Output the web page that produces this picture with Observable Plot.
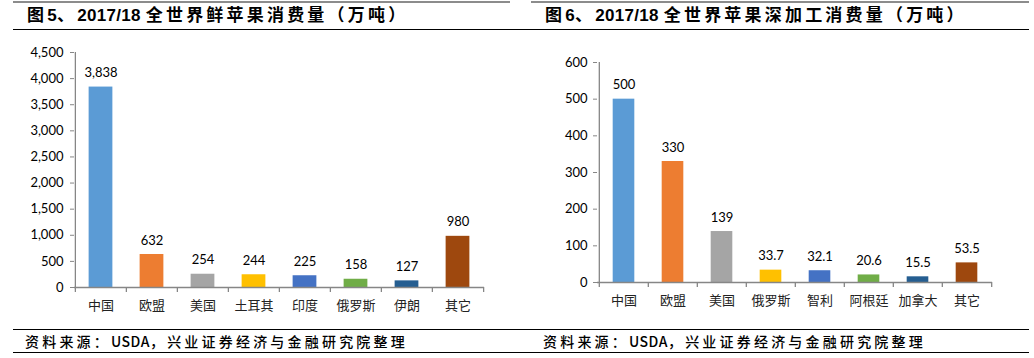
<!DOCTYPE html>
<html>
<head>
<meta charset="utf-8">
<script src="https://cdn.jsdelivr.net/npm/d3@7"></script>
<script src="https://cdn.jsdelivr.net/npm/@observablehq/plot@0.6"></script>
<style>
  html, body { margin: 0; padding: 0; background: #fff; }
  #page { position: relative; width: 1034px; height: 358px; overflow: hidden; background: #fff; }
  .hline { position: absolute; height: 0; }
  .title { position: absolute; top: 5px; font-family: "Liberation Sans", "Noto Sans CJK SC", sans-serif; font-weight: bold; font-size: 17px; letter-spacing: 3.2px; color: #000; white-space: nowrap; line-height: 22px; }
  .title .num { letter-spacing: 0.3px; }
  .foot { position: absolute; top: 330px; font-family: "Noto Sans CJK SC", sans-serif; font-weight: 500; font-size: 14px; letter-spacing: 3.2px; color: #000; white-space: nowrap; line-height: 22px; }
  .foot .num { letter-spacing: 0.5px; }
  .chart { position: absolute; top: 40px; }
</style>
</head>
<body>
<div id="page">
  <div class="hline" style="left:13px;width:497px;top:1px;border-top:2px solid #8c8c8c"></div>
  <div class="hline" style="left:531px;width:498px;top:1px;border-top:2px solid #8c8c8c"></div>
  <div class="title" style="left:27px">图<span class="num">5</span>、<span class="num">2017/18 </span>全世界鲜苹果消费量（万吨）</div>
  <div class="title" style="left:545px">图<span class="num">6</span>、<span class="num">2017/18 </span>全世界苹果深加工消费量（万吨）</div>
  <div class="hline" style="left:13px;width:1016px;top:29px;border-top:1px solid #000"></div>
  <div class="chart" id="c1" style="left:0px"></div>
  <div class="chart" id="c2" style="left:517px"></div>
  <div class="hline" style="left:13px;width:1016px;top:329px;border-top:1px solid #000"></div>
  <div class="foot" style="left:25px">资料来源：<span class="num">USDA</span>，兴业证券经济与金融研究院整理</div>
  <div class="foot" style="left:543px">资料来源：<span class="num">USDA</span>，兴业证券经济与金融研究院整理</div>
  <div class="hline" style="left:13px;width:1016px;top:352px;border-top:1px solid #000"></div>
</div>
<script>
// ---- data ----
const cats1 = ["中国", "欧盟", "美国", "土耳其", "印度", "俄罗斯", "伊朗", "其它"];
const vals1 = [3838, 632, 254, 244, 225, 158, 127, 980];
const colors1 = ["#5B9BD5", "#ED7D31", "#A5A5A5", "#FFC000", "#4472C4", "#70AD47", "#255E91", "#9E480E"];
const ticks1 = [0, 500, 1000, 1500, 2000, 2500, 3000, 3500, 4000, 4500];

const cats2 = ["中国", "欧盟", "美国", "俄罗斯", "智利", "阿根廷", "加拿大", "其它"];
const vals2 = [500, 330, 139, 33.7, 32.1, 20.6, 15.5, 53.5];
const colors2 = ["#5B9BD5", "#ED7D31", "#A5A5A5", "#FFC000", "#4472C4", "#70AD47", "#255E91", "#9E480E"];
const ticks2 = [0, 100, 200, 300, 400, 500, 600];

const axisColor = "#868686";

function makeChart(cfg) {
  const data = cfg.cats.map((c, i) => ({cat: c, v: cfg.vals[i], label: cfg.fmt(cfg.vals[i])}));
  const band = (cfg.width - cfg.mL - cfg.mR) / cfg.cats.length;
  const frameH = cfg.height - cfg.mT - cfg.mB;
  const inset = (band - cfg.barW) / 2;
  return Plot.plot({
    width: cfg.width,
    height: cfg.height,
    marginLeft: cfg.mL,
    marginRight: cfg.mR,
    marginTop: cfg.mT,
    marginBottom: cfg.mB,
    style: {fontFamily: "Lato, 'Noto Sans CJK SC', sans-serif", fontSize: "13px", color: "#000", background: "transparent"},
    x: {type: "band", domain: cfg.cats, padding: 0, label: null},
    y: {domain: [0, cfg.max], label: null},
    color: {type: "ordinal", domain: cfg.cats, range: cfg.colors},
    marks: [
      Plot.barY(data, {x: "cat", y: "v", fill: "cat", insetLeft: inset, insetRight: inset}),
      Plot.ruleY([0], {stroke: axisColor, strokeWidth: 1.3}),
      Plot.ruleX(cfg.cats.slice(0, 1), {x: d => d, dx: -band / 2, stroke: axisColor, strokeWidth: 1.3}),
      Plot.tickX(cfg.cats, {x: d => d, dx: -band / 2, dy: 5, insetTop: frameH - 5, stroke: axisColor, strokeWidth: 1.3}),
      Plot.tickX(cfg.cats.slice(-1), {x: d => d, dx: band / 2, dy: 5, insetTop: frameH - 5, stroke: axisColor, strokeWidth: 1.3}),
      Plot.axisY(cfg.ticks, {label: null, tickSize: 4, tickPadding: cfg.tickPad, tickFormat: d3.format(","), stroke: axisColor, fontSize: 13, fill: "#000"}),
      Plot.axisX({label: null, tickSize: 0, tickPadding: 13, fontSize: 13, fontFamily: "'Noto Sans CJK SC', sans-serif", fill: "#222"}),
      Plot.text(data, {x: "cat", y: "v", text: "label", dy: -cfg.labelDy, fontSize: 13, fill: "#000"})
    ]
  });
}

document.getElementById("c1").append(makeChart({
  cats: cats1, vals: vals1, colors: colors1, ticks: ticks1, max: 4500,
  fmt: d3.format(","),
  width: 517, height: 280, mL: 74, mR: 33, mT: 12, mB: 33,
  barW: 24, tickPad: 7, labelDy: 14
}));

document.getElementById("c2").append(makeChart({
  cats: cats2, vals: vals2, colors: colors2, ticks: ticks2, max: 600,
  fmt: d => String(d),
  width: 517, height: 280, mL: 80, mR: 42, mT: 22, mB: 38,
  barW: 22, tickPad: 6, labelDy: 14
}));
</script>
</body>
</html>
